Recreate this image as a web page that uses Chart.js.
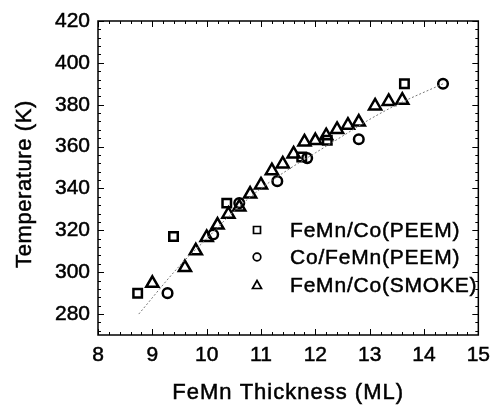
<!DOCTYPE html>
<html>
<head>
<meta charset="utf-8">
<script src="https://cdn.jsdelivr.net/npm/chart.js@4/dist/chart.umd.min.js"></script>
<style>
  html, body { margin: 0; padding: 0; background: #fff; }
</style>
</head>
<body>
<canvas id="myChart" width="498" height="405"></canvas>
<script>
// FeMn/Co (PEEM) - squares
var peemX = [8.73, 9.39, 10.37, 11.75, 12.22, 13.64];
var peemY = [290, 317, 333, 355, 363, 390];

// Co/FeMn (PEEM) - circles
var coX = [9.28, 10.12, 10.6, 11.3, 11.85, 12.8, 14.35];
var coY = [290, 318, 333, 343.5, 354.5, 363.5, 390];

// FeMn/Co (SMOKE) - triangles
var smokeX = [9.0, 9.6, 9.8, 10.0, 10.2, 10.4, 10.6, 10.8, 11.0, 11.2, 11.4, 11.6, 11.8, 12.0, 12.2, 12.4, 12.6, 12.8, 13.1, 13.35, 13.6];
var smokeY = [294.7, 302.2, 310.2, 316.6, 322.5, 327.7, 331.2, 337.3, 341.7, 348.5, 351.7, 356.5, 362.2, 362.9, 365.2, 368.2, 370.2, 371.7, 379.4, 381.6, 382.2];

// dotted guide line
var fitX = [8.75, 9.5, 10.0, 10.5, 11.0, 11.5, 12.0, 12.5, 13.0, 13.5, 14.35];
var fitY = [280, 303, 316, 329, 340, 349, 357, 365, 373, 380, 390];

var xTicks = [8, 9, 10, 11, 12, 13, 14, 15];
var yTicks = [280, 300, 320, 340, 360, 380, 400, 420];

var legendNames = ["FeMn/Co(PEEM)", "Co/FeMn(PEEM)", "FeMn/Co(SMOKE)"];
var xTitle = "FeMn Thickness (ML)";
var yTitle = "Temperature (K)";

function pts(xs, ys) {
  return xs.map(function (x, i) { return { x: x, y: ys[i] }; });
}

var FONT = "'Liberation Sans', Arial, Helvetica, sans-serif";

function heavyText(c, txt, x, y) {
  c.fillText(txt, x, y);
  c.strokeText(txt, x, y);
}

// box, inward ticks, axis titles and the little legend
var framePlugin = {
  id: "frame",
  afterDraw: function (chart) {
    var c = chart.ctx;
    var a = chart.chartArea;
    var xs = chart.scales.x, ys = chart.scales.y;
    c.save();
    c.strokeStyle = "#000";
    c.lineWidth = 1.5;
    c.strokeRect(a.left, a.top, a.right - a.left, a.bottom - a.top);
    c.lineWidth = 1;
    c.beginPath();
    var v, px, len;
    for (v = 8; v <= 15.001; v += 0.2) {
      px = Math.round(xs.getPixelForValue(v)) + 0.5;
      len = Math.abs(v - Math.round(v)) < 0.01 ? 6 : 3;
      c.moveTo(px, a.bottom); c.lineTo(px, a.bottom - len);
      c.moveTo(px, a.top); c.lineTo(px, a.top + len);
    }
    for (v = 272; v <= 420.001; v += 4) {
      px = Math.round(ys.getPixelForValue(v)) + 0.5;
      len = (v % 20 === 0) ? 6 : 3;
      c.moveTo(a.left, px); c.lineTo(a.left + len, px);
      c.moveTo(a.right, px); c.lineTo(a.right - len, px);
    }
    c.stroke();

    // legend
    var lx = 257, rows = [230, 257, 285];
    c.lineWidth = 1.7;
    c.beginPath();
    c.rect(lx - 3.5, rows[0] - 3.5, 7, 7);
    c.stroke();
    c.beginPath();
    c.arc(lx, rows[1], 3.8, 0, Math.PI * 2);
    c.stroke();
    c.beginPath();
    c.moveTo(lx, rows[2] - 4.5);
    c.lineTo(lx + 4.5, rows[2] + 3.5);
    c.lineTo(lx - 4.5, rows[2] + 3.5);
    c.closePath();
    c.stroke();

    c.fillStyle = "#000";
    c.lineWidth = 0.5;
    c.textBaseline = "middle";
    c.textAlign = "left";
    c.font = "21px " + FONT;
    c.letterSpacing = "0.8px";
    for (var i = 0; i < legendNames.length; i++) {
      heavyText(c, legendNames[i], 290, rows[i] + 1);
    }

    // axis titles
    c.textAlign = "center";
    c.font = "22px " + FONT;
    c.letterSpacing = "1px";
    heavyText(c, xTitle, (a.left + a.right) / 2, 393);
    c.translate(25, 184);
    c.rotate(-Math.PI / 2);
    c.letterSpacing = "0.6px";
    heavyText(c, yTitle, 0, 0);
    c.restore();
  }
};

var ctx = document.getElementById("myChart");
var myChart = new Chart(ctx, {
  type: "scatter",
  data: {
    datasets: [
      {
        label: "fit",
        data: pts(fitX, fitY),
        showLine: true,
        borderColor: "#777",
        borderWidth: 1,
        borderDash: [2, 2],
        pointRadius: 0,
        cubicInterpolationMode: "monotone",
        fill: false
      },
      {
        label: legendNames[0],
        data: pts(peemX, peemY),
        pointStyle: "rect",
        pointRadius: 6,
        borderColor: "#000",
        backgroundColor: "rgba(0,0,0,0)",
        borderWidth: 2.5
      },
      {
        label: legendNames[1],
        data: pts(coX, coY),
        pointStyle: "circle",
        pointRadius: 4.8,
        borderColor: "#000",
        backgroundColor: "rgba(0,0,0,0)",
        borderWidth: 2.5
      },
      {
        label: legendNames[2],
        data: pts(smokeX, smokeY),
        pointStyle: "triangle",
        pointRadius: 7,
        borderColor: "#000",
        backgroundColor: "rgba(0,0,0,0)",
        borderWidth: 2.5
      }
    ]
  },
  options: {
    responsive: false,
    animation: false,
    layout: { padding: { left: 0, top: 21, right: 15, bottom: 0 } },
    plugins: {
      legend: { display: false },
      tooltip: { enabled: false }
    },
    scales: {
      x: {
        type: "linear",
        min: 8,
        max: 15,
        grid: { display: false, drawTicks: false },
        border: { display: false },
        afterBuildTicks: function (s) {
          s.ticks = xTicks.map(function (v) { return { value: v }; });
        },
        afterFit: function (s) { s.height = 70; },
        ticks: {
          color: "#000",
          padding: 8,
          maxRotation: 0,
          textStrokeColor: "#000",
          textStrokeWidth: 0.5,
          font: { family: FONT, size: 21 }
        }
      },
      y: {
        type: "linear",
        min: 270,
        max: 420,
        grid: { display: false, drawTicks: false },
        border: { display: false },
        afterBuildTicks: function (s) {
          s.ticks = yTicks.map(function (v) { return { value: v }; });
        },
        afterFit: function (s) { s.width = 98; },
        ticks: {
          color: "#000",
          padding: 8,
          textStrokeColor: "#000",
          textStrokeWidth: 0.5,
          font: { family: FONT, size: 21 }
        }
      }
    }
  },
  plugins: [framePlugin]
});
</script>
</body>
</html>
